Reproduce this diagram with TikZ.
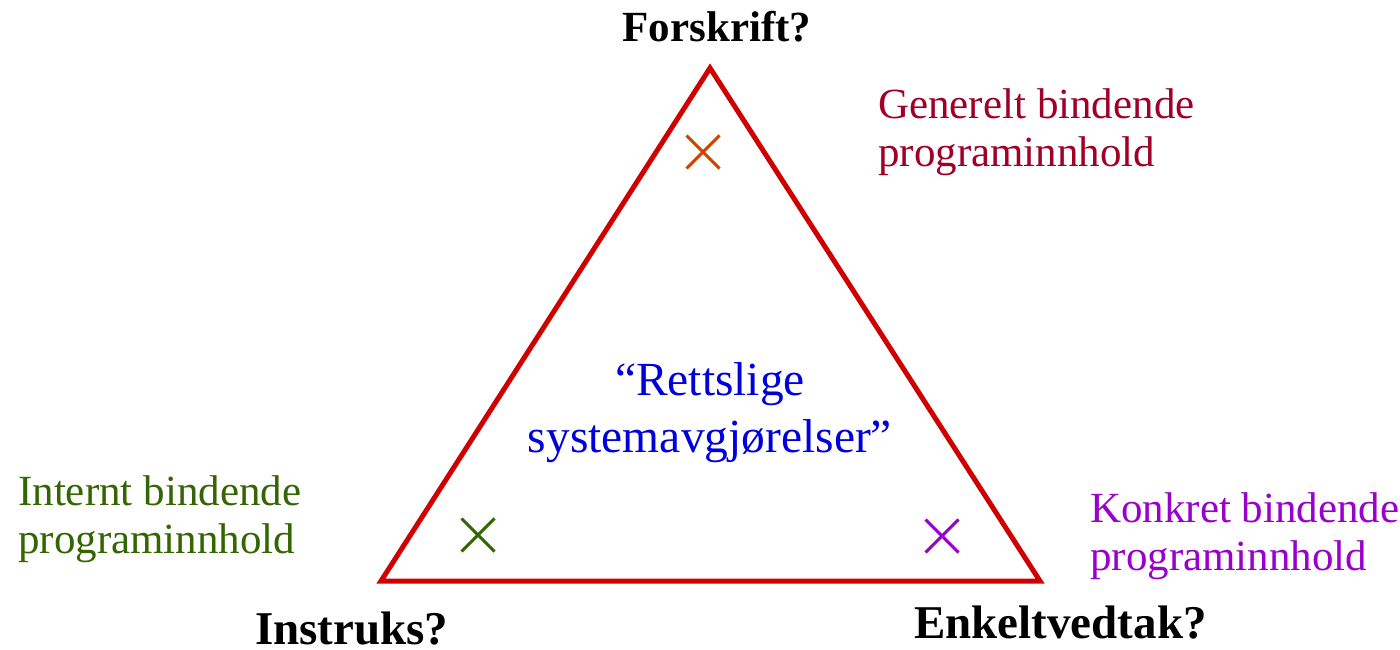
\documentclass[tikz,border=0pt]{standalone}
\usepackage{fontspec}
\setmainfont{Liberation Serif}
\usetikzlibrary{shapes.misc}
\definecolor{trired}{RGB}{208,0,0}
\definecolor{xorange}{RGB}{204,68,0}
\definecolor{genred}{RGB}{160,0,40}
\definecolor{intgreen}{RGB}{51,102,0}
\definecolor{konpurple}{RGB}{153,0,204}
\definecolor{ctrblue}{RGB}{0,0,221}
\begin{document}
\begin{tikzpicture}[x=1pt,y=-1pt,
  lbl/.style={inner sep=0pt,font=\fontsize{43}{48}\selectfont,align=left},
  corner/.style={inner sep=0pt,font=\fontsize{47}{52}\selectfont\bfseries},
  xmark/.style={draw,line width=3pt,cross out,minimum size=30pt,inner sep=0pt}]
\useasboundingbox (0,0) rectangle (1400,650);
\coordinate (top) at (710,68);
\coordinate (bl) at (381,581);
\coordinate (br) at (1040,581);
\draw[trired,line width=5pt,line join=miter] (top) -- (br) -- (bl) -- cycle;
\node[xmark,xorange] (xt) at (703,152) {};
\node[xmark,intgreen] (xl) at (478,535) {};
\node[xmark,konpurple] (xr) at (942,536) {};
\node[corner,font=\fontsize{43}{48}\selectfont\bfseries,anchor=base] (forskrift) at (717,42) {Forskrift?};
\node[corner,anchor=base west] (instruks) at (255,644) {Instruks?};
\node[corner,anchor=base west] (enkelt) at (914,638) {Enkeltvedtak?};
\node[lbl,genred,anchor=base west] (gen) at (878,167) {Generelt bindende\\programinnhold};
\node[lbl,intgreen,anchor=base west] (int) at (18,553) {Internt bindende\\programinnhold};
\node[lbl,konpurple,anchor=base west] (kon) at (1090,570) {Konkret bindende\\programinnhold};
\node[inner sep=0pt,ctrblue,font=\fontsize{47.5}{57}\selectfont,align=center,anchor=base] (ctr) at (710,452) {“Rettslige\\systemavgjørelser”};
\end{tikzpicture}
\end{document}
